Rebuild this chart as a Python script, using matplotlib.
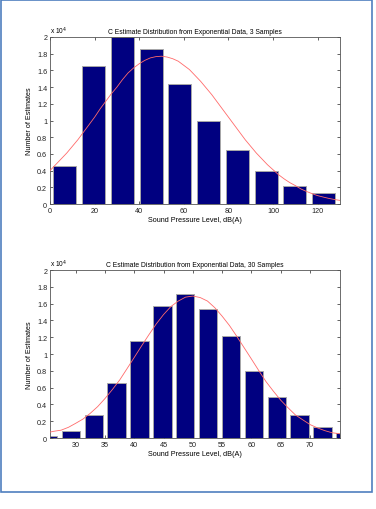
import matplotlib
matplotlib.use("Agg")
import matplotlib.pyplot as plt
from matplotlib.patches import Rectangle
import numpy as np

plt.rcParams['font.family'] = ['Liberation Sans', 'DejaVu Sans']

# ---- data: top panel (3 samples) ----
top_centers = [6.6, 19.5, 32.4, 45.3, 58.2, 71.1, 84.0, 96.9, 109.8, 122.7]
top_counts = [4500, 16500, 20000, 18600, 14400, 9900, 6500, 3900, 2200, 1300]
top_fit_x = [0, 2.5, 5, 7.5, 10, 12.5, 15, 17.5, 20, 22.5, 25, 27.5, 30, 32.5,
             35, 37.5, 40, 42.5, 45, 47.5, 50, 52.5, 55, 57.5, 60, 62.5, 65,
             67.5, 70, 72.5, 75, 77.5, 80, 82.5, 85, 87.5, 90, 92.5, 95, 97.5,
             100, 102.5, 105, 107.5, 110, 112.5, 115, 117.5, 120, 122.5, 125,
             127.5, 130]
top_fit_y = [4000, 4700, 5400, 6100, 6900, 7700, 8600, 9500, 10400, 11400,
             12300, 13200, 14000, 14900, 15700, 16300, 16800, 17200, 17500,
             17650, 17700, 17600, 17400, 17100, 16600, 16100, 15400, 14700,
             13900, 13100, 12200, 11300, 10400, 9500, 8600, 7700, 6900, 6100,
             5400, 4700, 4100, 3500, 3000, 2560, 2200, 1800, 1500, 1240, 1000,
             830, 670, 540, 430]
top_xticks = [0, 20, 40, 60, 80, 100, 120]

# ---- data: bottom panel (30 samples) ----
bot_centers = [25.26, 29.17, 33.07, 36.98, 40.88, 44.79, 48.69, 52.60, 56.50,
               60.41, 64.31, 68.22, 72.13, 76.04]
bot_counts = [200, 800, 2700, 6600, 11600, 15700, 17100, 15300, 12100, 8000,
              4900, 2700, 1300, 600]
bot_fit_x = [25.6, 26.25, 27.5, 28.75, 30, 31.25, 32.5, 33.75, 35, 36.25, 37.5,
             38.75, 40, 41.25, 42.5, 43.75, 45, 46.25, 47.5, 48.75, 50, 51.25,
             52.5, 53.75, 55, 56.25, 57.5, 58.75, 60, 61.25, 62.5, 63.75, 65,
             66.25, 67.5, 68.75, 70, 71.25, 72.5, 73.75, 75.1]
bot_fit_y = [700, 800, 930, 1270, 1750, 2260, 2950, 3740, 4700, 5760, 6900,
             8240, 9600, 10970, 12300, 13580, 14700, 15650, 16300, 16770, 16900,
             16720, 16300, 15510, 14500, 13390, 12100, 10750, 9400, 8030, 6700,
             5570, 4500, 3600, 2750, 2170, 1600, 1210, 880, 630, 500]
bot_xticks = [30, 35, 40, 45, 50, 55, 60, 65, 70]

yticks = [0, 0.2, 0.4, 0.6, 0.8, 1.0, 1.2, 1.4, 1.6, 1.8, 2.0]
scale = 1e4

W, H = 376, 510
fig = plt.figure(figsize=(W / 100, H / 100), dpi=100)
fig.patch.set_facecolor('white')

# blue page border
fig.patches.append(Rectangle((1 / W, 1 - 493 / H), 371 / W, 492 / H,
                             transform=fig.transFigure, fill=False,
                             edgecolor='#4f7fbf', linewidth=1.2))

FS = 5.2
TFS = 4.9
bar_color = '#000080'
edge_color = '#a8a8a8'
curve_color = '#ff6a6a'


def style(ax, title, xticks, xlim, bw, centers, counts, fx, fy):
    ax.bar(centers, np.array(counts) / scale, width=bw, color=bar_color,
           edgecolor=edge_color, linewidth=0.7, zorder=2)
    ax.plot(fx, np.array(fy) / scale, color=curve_color, linewidth=0.6, zorder=3)
    ax.set_xlim(*xlim)
    ax.set_ylim(0, 2)
    ax.set_xticks(xticks)
    ax.set_yticks(yticks)
    ax.set_yticklabels(['%g' % v for v in yticks])
    ax.tick_params(direction='in', length=2.5, width=0.5, labelsize=FS,
                   top=True, right=True, pad=2, colors='#222222')
    for s in ax.spines.values():
        s.set_linewidth(0.6)
        s.set_color('#555555')
    ax.set_title(title, fontsize=TFS, pad=3)
    ax.set_xlabel('Sound Pressure Level, dB(A)', fontsize=FS, labelpad=1.5)
    ax.set_ylabel('Number of Estimates', fontsize=FS, labelpad=3)
    ax.text(0.0, 1.005, r'x 10$^{4}$', transform=ax.transAxes, fontsize=FS - 0.4,
            ha='left', va='bottom')


ax1 = fig.add_axes([50 / W, 1 - 205 / H, 290 / W, 167 / H])
style(ax1, 'C Estimate Distribution from Exponential Data, 3 Samples',
      top_xticks, (0, 130), 10.3, top_centers, top_counts, top_fit_x, top_fit_y)

ax2 = fig.add_axes([50 / W, 1 - 439 / H, 290 / W, 168 / H])
style(ax2, 'C Estimate Distribution from Exponential Data, 30 Samples',
      bot_xticks, (25.61, 75.12), 3.13, bot_centers, bot_counts, bot_fit_x, bot_fit_y)

fig.savefig('out.png', dpi=100, facecolor='white')
